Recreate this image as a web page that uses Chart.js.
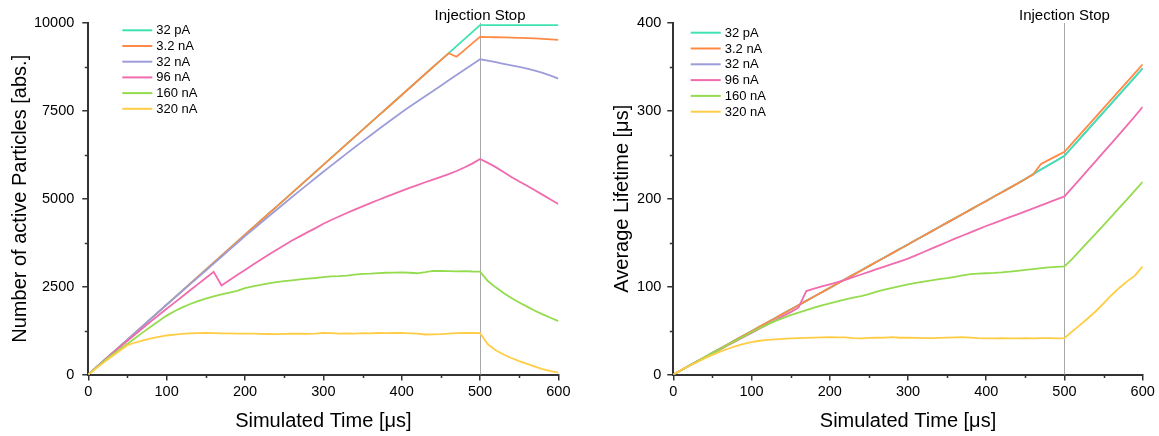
<!DOCTYPE html>
<html>
<head>
<meta charset="utf-8">
<title>Particles and lifetime vs. simulated time</title>
<script src="https://cdn.jsdelivr.net/npm/chart.js@4.4.1/dist/chart.umd.min.js"></script>
<style>
  html, body { margin: 0; padding: 0; background: #fff; }
  #wrap { position: relative; width: 1159px; height: 436px; overflow: hidden; background: #fff; }
  #left  { position: absolute; left: 0;     top: 0; }
  #right { position: absolute; left: 596px; top: 0; }
</style>
</head>
<body>
<div id="wrap">
  <canvas id="left" width="580" height="436"></canvas>
  <canvas id="right" width="563" height="436"></canvas>
</div>
<script>
// ---- data -------------------------------------------------------------
const TIME_US = [
  0, 10, 20, 30, 40, 50, 60, 70, 80, 90,
  100, 110, 120, 130, 140, 150, 160, 170, 180, 190,
  200, 210, 220, 230, 240, 250, 260, 270, 280, 290,
  300, 310, 320, 330, 340, 350, 360, 370, 380, 390,
  400, 410, 420, 430, 440, 450, 460, 470, 480, 490,
  500,
  510, 520, 530, 540, 550, 560, 570, 580, 590, 600
];

const SERIES_LABELS = ['32 pA', '3.2 nA', '32 nA', '96 nA', '160 nA', '320 nA'];
const INJECTION_STOP_US = 500;

const X_TICKS = [0, 100, 200, 300, 400, 500, 600];
const PARTICLE_TICKS = [0, 2500, 5000, 7500, 10000];
const LIFETIME_TICKS = [0, 100, 200, 300, 400];

// Number of active particles
const PARTICLES_32PA = [
  0, 199, 398, 597, 795, 994, 1193, 1392, 1590, 1789,
  1988, 2187, 2386, 2584, 2783, 2982, 3181, 3380, 3578, 3777,
  3976, 4175, 4374, 4572, 4771, 4970, 5169, 5368, 5566, 5765,
  5964, 6163, 6362, 6560, 6759, 6958, 7157, 7356, 7554, 7753,
  7952, 8151, 8350, 8548, 8747, 8946, 9145, 9344, 9542, 9741,
  9940,
  9942, 9942, 9941, 9941, 9940, 9940, 9940, 9939, 9939, 9938
];
const PARTICLES_3_2NA = [
  0, 199, 398, 597, 795, 994, 1193, 1392, 1590, 1789,
  1988, 2187, 2386, 2584, 2783, 2982, 3181, 3380, 3578, 3777,
  3976, 4175, 4374, 4572, 4771, 4970, 5169, 5368, 5566, 5765,
  5964, 6163, 6362, 6560, 6759, 6958, 7157, 7356, 7554, 7753,
  7952, 8151, 8350, 8548, 8747, 8946, 9140, 9040, 9230, 9420,
  9605,
  9600, 9595, 9590, 9585, 9578, 9570, 9560, 9548, 9535, 9520
];
const PARTICLES_32NA = [
  0, 199, 397, 596, 794, 993, 1191, 1390, 1588, 1787,
  1985, 2180, 2375, 2570, 2765, 2960, 3155, 3350, 3545, 3740,
  3935, 4123, 4310, 4496, 4681, 4865, 5048, 5230, 5410, 5589,
  5767, 5943, 6118, 6291, 6463, 6633, 6802, 6969, 7135, 7299,
  7462, 7615, 7767, 7918, 8068, 8218, 8368, 8518, 8668, 8818,
  8968,
  8930, 8885, 8840, 8795, 8750, 8700, 8645, 8580, 8505, 8420
];
const PARTICLES_96NA = [
  0, 196, 390, 582, 772, 960, 1146, 1330, 1512, 1692,
  1870, 2045, 2220, 2395, 2570, 2745, 2920, 2530, 2680, 2830,
  2975, 3120, 3265, 3405, 3545, 3680, 3810, 3930, 4050, 4165,
  4290, 4395, 4495, 4595, 4690, 4785, 4875, 4965, 5055, 5140,
  5225, 5310, 5390, 5470, 5545, 5620, 5700, 5790, 5890, 6000,
  6130,
  6020, 5900, 5760, 5620, 5490, 5370, 5240, 5110, 4980, 4850
];
const PARTICLES_160NA = [
  0, 190, 375, 550, 715, 872, 1040, 1205, 1365, 1522,
  1676, 1800, 1910, 2005, 2085, 2160, 2225, 2280, 2330, 2380,
  2460, 2510, 2550, 2590, 2625, 2655, 2680, 2705, 2725, 2745,
  2770, 2790, 2800, 2815, 2840, 2860, 2870, 2885, 2895, 2900,
  2905, 2895, 2880, 2910, 2950, 2945, 2940, 2935, 2940, 2930,
  2926,
  2660, 2480, 2320, 2175, 2050, 1930, 1815, 1710, 1615, 1520
];
const PARTICLES_320NA = [
  0, 175, 345, 510, 675, 835, 910, 970, 1025, 1070,
  1110, 1135, 1155, 1168, 1178, 1180, 1175, 1170, 1168, 1165,
  1163, 1162, 1158, 1152, 1150, 1155, 1160, 1160, 1157, 1162,
  1185, 1175, 1165, 1170, 1165, 1175, 1170, 1180, 1175, 1180,
  1185, 1172, 1160, 1138, 1140, 1150, 1165, 1175, 1180, 1180,
  1175,
  860, 690, 570, 470, 380, 300, 225, 155, 95, 55
];

// Average lifetime [us]
const LIFETIME_32PA = [
  0, 4.9, 9.9, 14.8, 19.7, 24.7, 29.6, 34.5, 39.4, 44.4,
  49.3, 54.2, 59.2, 64.1, 69, 74, 78.9, 83.8, 88.7, 93.7,
  98.6, 103.6, 108.5, 113.4, 118.4, 123.3, 128.3, 133.2, 138.1, 143.1,
  148, 153, 157.9, 162.9, 167.8, 172.8, 177.7, 182.7, 187.6, 192.6,
  197.5, 202.5, 207.4, 212.4, 217.4, 222.4, 227.8, 233.2, 238.4, 243.6,
  248.9,
  258.9, 268.8, 278.7, 288.6, 298.5, 308.5, 318.5, 328.5, 338.5, 348.5
];
const LIFETIME_3_2NA = [
  0, 4.9, 9.9, 14.8, 19.7, 24.7, 29.6, 34.5, 39.4, 44.4,
  49.3, 54.2, 59.2, 64.1, 69, 74, 78.9, 83.8, 88.7, 93.7,
  98.6, 103.6, 108.5, 113.4, 118.4, 123.3, 128.3, 133.2, 138.1, 143.1,
  148, 153, 157.9, 162.9, 167.8, 172.8, 177.7, 182.7, 187.6, 192.6,
  197.5, 202.5, 207.4, 212.4, 217.4, 222.4, 227.8, 239.6, 244.2, 248.8,
  253.4,
  263.4, 273.3, 283.2, 293.1, 303.1, 313.1, 323.1, 333.1, 343, 353
];
const LIFETIME_32NA = [
  0, 4.9, 9.9, 14.8, 19.7, 24.7, 29.6, 34.5, 39.4, 44.4,
  49.3, 54.2, 59.2, 64.1, 69, 74, 78.9, 83.8, 88.7, 93.7,
  98.6, 103.6, 108.5, 113.4, 118.4, 123.3, 128.3, 133.2, 138.1, 143.1,
  148, 153, 157.9, 162.9, 167.8, 172.8, 177.7, 182.7, 187.6, 192.6,
  197.5, 202.5, 207.4, 212.4, 217.4, 222.4, 227.8, 233.2, 238.4, 243.6,
  248.9,
  258.9, 268.8, 278.7, 288.6, 298.5, 308.5, 318.5, 328.5, 338.5, 348.5
];
const LIFETIME_96NA = [
  0, 4.9, 9.7, 14.4, 19.1, 23.8, 28.5, 33.2, 37.9, 42.6,
  47.3, 52, 56.8, 61.5, 66.2, 71, 76, 95, 97.6, 100.2,
  102.6, 105.2, 107.8, 110.8, 113.8, 116.8, 119.8, 122.8, 125.8, 128.8,
  131.8, 135.6, 139.4, 143.2, 147, 150.8, 154.6, 158.2, 161.8, 165.4,
  169, 172.3, 175.6, 179, 182.3, 185.7, 189, 192.4, 195.8, 199.2,
  202.6,
  212.6, 222.7, 232.8, 242.9, 253, 263.1, 273.3, 283.5, 293.9, 304.5
];
const LIFETIME_160NA = [
  0, 4.9, 9.8, 14.7, 19.5, 24.3, 29.1, 33.9, 38.6, 43.3,
  48, 52.6, 56.8, 60.7, 64.2, 67.5, 70.5, 73.3, 76, 78.6,
  81, 83.3, 85.5, 87.5, 89.2, 91.5, 94.2, 96.6, 98.6, 100.6,
  102.5, 104.2, 105.8, 107.2, 108.5, 109.7, 111.2, 112.8, 114.2, 114.8,
  115.2, 115.6, 116.2, 117, 118, 119, 120, 121, 122, 122.5,
  123,
  131.6, 141.2, 150.8, 160.4, 170, 179.7, 189.5, 199.4, 209.3, 219.3
];
const LIFETIME_320NA = [
  0, 5, 9.6, 14, 18.3, 22.3, 26, 29.3, 32.3, 34.8,
  36.8, 38.4, 39.3, 40, 40.5, 41, 41.3, 41.7, 42, 42.3,
  42.4, 42.3, 42.2, 41.5, 41.2, 41.6, 41.8, 42, 42.5, 41.8,
  41.8, 41.6, 41.4, 41.4, 41.6, 41.9, 42.2, 42.6, 42, 41.5,
  41.2, 41, 41.3, 41.2, 41, 41.3, 41.2, 41.3, 41.3, 41.2,
  41.3,
  49, 56.5, 64, 72, 81, 90.2, 98.5, 106, 112.5, 123
];

// ---- styling ----------------------------------------------------------
const FONT_FAMILY = "'Liberation Sans', Arial, Helvetica, sans-serif";
const AXIS_COLOR = '#333333';
const SERIES_COLORS = ['#3fe3b2', '#ff8a45', '#9d9dd9', '#f06cae', '#94dc4e', '#ffcd45'];

Chart.defaults.font.family = FONT_FAMILY;
Chart.defaults.color = '#000';

function toPoints(values) {
  return values.map((v, i) => ({ x: TIME_US[i], y: v }));
}

function buildDatasets(seriesValues, drawOrder) {
  return seriesValues.map((values, i) => ({
    label: SERIES_LABELS[i],
    data: toPoints(values),
    borderColor: SERIES_COLORS[i],
    backgroundColor: SERIES_COLORS[i],
    borderWidth: 1.8,
    pointRadius: 0,
    tension: 0,
    fill: false,
    order: drawOrder[i]
  }));
}

function fixedTicks(list) {
  return function (scale) {
    scale.ticks = list.map(v => ({ value: v }));
  };
}

function buildScales(p) {
  return {
    x: {
      type: 'linear', min: 0, max: 600,
      afterBuildTicks: fixedTicks(X_TICKS),
      ticks: { color: '#000', font: { size: 14.5 }, padding: 3, maxRotation: 0, autoSkip: false,
               callback: v => String(v) },
      grid: { display: true, drawOnChartArea: false, drawTicks: true, tickLength: 6,
              color: AXIS_COLOR, lineWidth: 1.5 },
      border: { display: true, color: AXIS_COLOR, width: 2 },
      title: { display: true, text: 'Simulated Time [μs]', color: '#000',
               font: { size: 20 }, padding: { top: 0, bottom: 3 } },
      afterFit(s) { s.height = p.xAxisHeight; }
    },
    y: {
      type: 'linear', min: 0, max: p.yMax,
      afterBuildTicks: fixedTicks(p.yTicks),
      ticks: { color: '#000', font: { size: 14.5 }, padding: p.yTickPad, autoSkip: false,
               callback: v => String(v) },
      grid: { display: true, drawOnChartArea: false, drawTicks: true, tickLength: 6,
              color: AXIS_COLOR, lineWidth: 1.5 },
      border: { display: true, color: AXIS_COLOR, width: 2 },
      title: { display: true, text: p.yTitle, color: '#000',
               font: { size: 20 }, padding: { top: p.yTitlePad, bottom: 0 } },
      afterFit(s) { s.width = p.yAxisWidth; }
    }
  };
}

// Vertical "Injection Stop" marker, minor ticks and the in-plot legend
function makeOverlay(p) {
  return {
    id: 'overlay',
    beforeDatasetsDraw(chart) {
      const { ctx, chartArea } = chart;
      const x = Math.round(chart.scales.x.getPixelForValue(INJECTION_STOP_US)) + 0.5;
      ctx.save();
      ctx.strokeStyle = '#a8a8a8';
      ctx.lineWidth = 1;
      ctx.beginPath();
      ctx.moveTo(x, chartArea.top);
      ctx.lineTo(x, chartArea.bottom);
      ctx.stroke();
      ctx.restore();
    },
    afterDraw(chart) {
      const { ctx, chartArea } = chart;
      const xs = chart.scales.x, ys = chart.scales.y;
      ctx.save();

      // minor ticks half-way between the labelled ones
      ctx.strokeStyle = AXIS_COLOR;
      ctx.lineWidth = 1.5;
      ctx.beginPath();
      for (let i = 0; i < X_TICKS.length - 1; i++) {
        const px = Math.round(xs.getPixelForValue((X_TICKS[i] + X_TICKS[i + 1]) / 2)) + 0.5;
        ctx.moveTo(px, chartArea.bottom);
        ctx.lineTo(px, chartArea.bottom + 3.5);
      }
      for (let i = 0; i < p.yTicks.length - 1; i++) {
        const py = Math.round(ys.getPixelForValue((p.yTicks[i] + p.yTicks[i + 1]) / 2)) + 0.5;
        ctx.moveTo(chartArea.left, py);
        ctx.lineTo(chartArea.left - 3.5, py);
      }
      ctx.stroke();

      // annotation text
      const xStop = xs.getPixelForValue(INJECTION_STOP_US);
      ctx.fillStyle = '#000';
      ctx.font = '15px ' + FONT_FAMILY;
      ctx.textAlign = 'center';
      ctx.textBaseline = 'alphabetic';
      ctx.fillText('Injection Stop', xStop, chartArea.top - 3);

      // legend
      ctx.font = '13px ' + FONT_FAMILY;
      ctx.textAlign = 'left';
      ctx.textBaseline = 'middle';
      const x0 = chartArea.left + p.legendOffsetX;
      chart.data.datasets.forEach((ds, i) => {
        const y = p.legendTop + i * p.legendStep;
        ctx.strokeStyle = ds.borderColor;
        ctx.lineWidth = 2;
        ctx.beginPath();
        ctx.moveTo(x0, y);
        ctx.lineTo(x0 + 30, y);
        ctx.stroke();
        ctx.fillStyle = '#000';
        ctx.fillText(ds.label, x0 + 34, y + 0.5);
      });
      ctx.restore();
    }
  };
}

function makeChart(canvasId, seriesValues, drawOrder, p) {
  return new Chart(document.getElementById(canvasId), {
    type: 'line',
    data: { datasets: buildDatasets(seriesValues, drawOrder) },
    options: {
      responsive: false,
      animation: false,
      devicePixelRatio: 1,
      layout: { padding: { left: 0, right: p.padRight, top: p.padTop, bottom: 0 } },
      plugins: { legend: { display: false }, tooltip: { enabled: false } },
      scales: buildScales(p)
    },
    plugins: [makeOverlay(p)]
  });
}

makeChart('left',
  [PARTICLES_32PA, PARTICLES_3_2NA, PARTICLES_32NA, PARTICLES_96NA, PARTICLES_160NA, PARTICLES_320NA],
  [5, 4, 3, 2, 1, 0],
  {
    yMax: 10000, yTicks: PARTICLE_TICKS, yTitle: 'Number of active Particles [abs.]',
    yAxisWidth: 88.3, yTickPad: 8, yTitlePad: 8, xAxisHeight: 61.5,
    padRight: 21.6, padTop: 23,
    legendOffsetX: 34, legendTop: 30.3, legendStep: 15.7
  });

makeChart('right',
  [LIFETIME_32PA, LIFETIME_3_2NA, LIFETIME_32NA, LIFETIME_96NA, LIFETIME_160NA, LIFETIME_320NA],
  [4, 3, 5, 2, 1, 0],
  {
    yMax: 400, yTicks: LIFETIME_TICKS, yTitle: 'Average Lifetime [μs]',
    yAxisWidth: 77.3, yTickPad: 6, yTitlePad: 14, xAxisHeight: 61.5,
    padRight: 16.3, padTop: 23,
    legendOffsetX: 17.4, legendTop: 32.7, legendStep: 15.8
  });
</script>
</body>
</html>
